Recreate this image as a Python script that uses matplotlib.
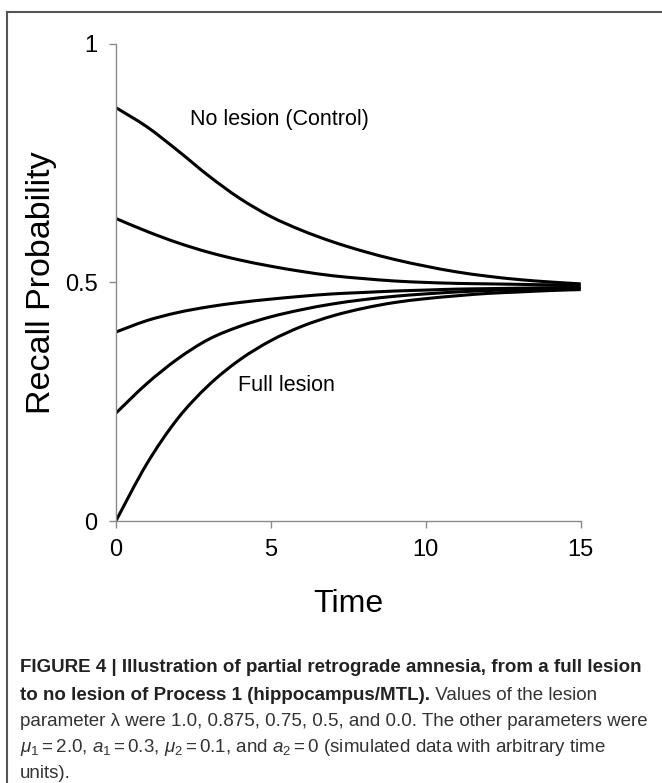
import matplotlib
matplotlib.use("Agg")
import matplotlib.pyplot as plt
from matplotlib.lines import Line2D
from matplotlib.path import Path
from matplotlib.patches import PathPatch

# values (recall probability vs time)
time = list(range(16))
no_lesion = [0.866, 0.826, 0.776, 0.723, 0.676, 0.638, 0.609, 0.585,
             0.565, 0.548, 0.534, 0.522, 0.513, 0.506, 0.501, 0.497]
lam_05 = [0.634, 0.607, 0.583, 0.563, 0.547, 0.534, 0.523, 0.514,
          0.508, 0.503, 0.500, 0.498, 0.497, 0.496, 0.495, 0.495]
lam_075 = [0.396, 0.420, 0.437, 0.449, 0.458, 0.465, 0.471, 0.476,
           0.479, 0.482, 0.484, 0.486, 0.487, 0.488, 0.489, 0.490]
lam_0875 = [0.226, 0.288, 0.340, 0.381, 0.408, 0.428, 0.443, 0.455,
            0.464, 0.471, 0.476, 0.480, 0.483, 0.485, 0.487, 0.488]
full_lesion = [0.0, 0.120, 0.215, 0.285, 0.338, 0.378, 0.408, 0.430,
               0.446, 0.458, 0.466, 0.472, 0.477, 0.480, 0.483, 0.485]
curves = [no_lesion, lam_05, lam_075, lam_0875, full_lesion]

x_ticks = [0, 5, 10, 15]
y_ticks = [0, 0.5, 1]
y_ticklabels = ["0", "0.5", "1"]


def smooth_path(xs, ys):
    """Excel-style smoothed line through the points (Catmull-Rom as cubic Bezier)."""
    pts = list(zip(xs, ys))
    verts = [pts[0]]
    codes = [Path.MOVETO]
    n = len(pts)
    for i in range(n - 1):
        p0 = pts[max(i - 1, 0)]
        p1 = pts[i]
        p2 = pts[i + 1]
        p3 = pts[min(i + 2, n - 1)]
        c1 = (p1[0] + (p2[0] - p0[0]) / 6, p1[1] + (p2[1] - p0[1]) / 6)
        c2 = (p2[0] - (p3[0] - p1[0]) / 6, p2[1] - (p3[1] - p1[1]) / 6)
        verts += [c1, c2, p2]
        codes += [Path.CURVE4] * 3
    return Path(verts, codes)


plt.rcParams["font.family"] = ["Liberation Sans", "DejaVu Sans"]
plt.rcParams["mathtext.fontset"] = "custom"
plt.rcParams["mathtext.rm"] = "Liberation Sans"
plt.rcParams["mathtext.it"] = "Liberation Sans:italic"

fig = plt.figure(figsize=(6.62, 7.83), dpi=100)
ax = fig.add_axes([0.1748, 0.3342, 0.7024, 0.6102])

for c in curves:
    ax.add_patch(PathPatch(smooth_path(time, c), facecolor="none",
                           edgecolor="black", lw=2.2, capstyle="butt"))

ax.set_xlim(0, 15)
ax.set_ylim(0, 1)
ax.set_xticks(x_ticks)
ax.set_yticks(y_ticks)
ax.set_yticklabels(y_ticklabels)
for s in ["top", "right"]:
    ax.spines[s].set_visible(False)
for s in ["left", "bottom"]:
    ax.spines[s].set_color("#8a8a8a")
    ax.spines[s].set_linewidth(1.0)
ax.tick_params(direction="out", length=5, width=1, color="#8a8a8a",
               labelsize=17, pad=8)

ax.set_xlabel("Time", fontsize=23, labelpad=20)
ax.set_ylabel("Recall Probability", fontsize=24.5, labelpad=6)

ax.text(2.4, 0.84, "No lesion (Control)", fontsize=15.5, va="center")
ax.text(3.95, 0.285, "Full lesion", fontsize=15.5, va="center")

# frame lines (top and left only)
fig.add_artist(Line2D([7 / 662, 1], [1 - 12 / 783, 1 - 12 / 783],
                      transform=fig.transFigure, color="#555555", lw=1.5))
fig.add_artist(Line2D([7 / 662, 7 / 662], [0, 1 - 12 / 783],
                      transform=fig.transFigure, color="#555555", lw=1.5))

# caption
cx = 20 / 662
cap_size = 13.5
line_y = [668, 695, 722, 748, 773]
bold_col = "#222222"
reg_col = "#333333"

fig.text(cx, 1 - line_y[0] / 783,
         "FIGURE 4 | Illustration of partial retrograde amnesia, from a full lesion",
         weight="bold", fontsize=cap_size, va="center", color=bold_col)
b2 = fig.text(cx, 1 - line_y[1] / 783,
              "to no lesion of Process 1 (hippocampus/MTL).",
              weight="bold", fontsize=cap_size, va="center", color=bold_col)
ax.annotate(" Values of the lesion", xy=(1, 0), xycoords=b2, va="bottom", ha="left",
            fontsize=cap_size, color=reg_col, annotation_clip=False)
fig.text(cx, 1 - line_y[2] / 783,
         "parameter \u03bb were 1.0, 0.875, 0.75, 0.5, and 0.0. The other parameters were",
         fontsize=cap_size, va="center", color=reg_col)
fig.text(cx, 1 - line_y[3] / 783,
         r"$\mu_1 = 2.0$, $a_1 = 0.3$, $\mu_2 = 0.1$, and $a_2 = 0$ (simulated data with arbitrary time",
         fontsize=cap_size, va="center", color=reg_col)
fig.text(cx, 1 - line_y[4] / 783, "units).",
         fontsize=cap_size, va="center", color=reg_col)

fig.savefig("out.png", dpi=100)
